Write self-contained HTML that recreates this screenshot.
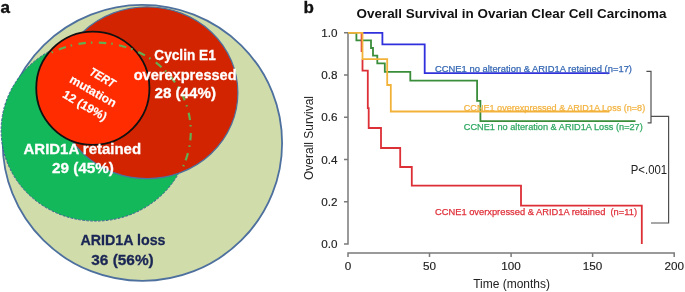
<!DOCTYPE html>
<html><head><meta charset="utf-8">
<style>
html,body{margin:0;padding:0;background:#fff;}
body{width:685px;height:292px;overflow:hidden;}
svg{display:block;filter:blur(0.3px);font-family:"Liberation Sans",sans-serif;}
</style></head>
<body>
<svg width="685" height="292" viewBox="0 0 685 292">
<rect width="685" height="292" fill="#fff"/>
<!-- panel a -->
<text x="0.6" y="13.2" font-size="17" font-weight="bold" fill="#111" stroke="#111" stroke-width="0.4">a</text>
<ellipse cx="142.4" cy="142.9" rx="139.7" ry="138" fill="#d1dcab" stroke="#4d709e" stroke-width="1.8"/>
<ellipse cx="95.5" cy="130.4" rx="94.4" ry="90.7" fill="#12b85a" stroke="#3d5f96" stroke-width="1" stroke-dasharray="2.5 1.5"/>
<ellipse cx="147.1" cy="92.7" rx="90.8" ry="85.9" fill="#d22400" stroke="#4d709e" stroke-width="1.2"/>
<circle cx="92.85" cy="88.25" r="56.6" fill="#ff2c00" stroke="#111" stroke-width="1.8"/>
<path d="M51.59 52.61A95.12 88.98 0 0 1 180.99 170.79" fill="none" stroke="#64ad50" stroke-width="2.2" stroke-dasharray="7.5 5 1.5 6.4" stroke-dashoffset="12.5"/>

<g fill="#fff" stroke="#fff" stroke-width="0.3" font-weight="bold" text-anchor="middle">
<text x="185.05" y="59.6" font-size="15" textLength="61.5" lengthAdjust="spacingAndGlyphs">Cyclin E1</text>
<text x="185.15" y="80" font-size="15" textLength="103" lengthAdjust="spacingAndGlyphs">overexpressed</text>
<text x="185.25" y="97.5" font-size="15" textLength="61.5" lengthAdjust="spacingAndGlyphs">28 (44%)</text>
<text x="82.3" y="154" font-size="15" textLength="117.5" lengthAdjust="spacingAndGlyphs">ARID1A retained</text>
<text x="82.95" y="173" font-size="15" textLength="62" lengthAdjust="spacingAndGlyphs">29 (45%)</text>
</g>
<g fill="#1a2654" stroke="#1a2654" stroke-width="0.3" font-weight="bold" text-anchor="middle">
<text x="123" y="245" font-size="15" textLength="85" lengthAdjust="spacingAndGlyphs">ARID1A loss</text>
<text x="122.5" y="264.5" font-size="15" textLength="62.5" lengthAdjust="spacingAndGlyphs">36 (56%)</text>
</g>
<g fill="#fff" stroke="#fff" stroke-width="0.2" font-weight="bold" text-anchor="middle" font-size="12" transform="translate(93.3 90.8) rotate(30)">
<text x="1.2" y="-12" font-style="italic" textLength="27.5" lengthAdjust="spacingAndGlyphs">TERT</text>
<text x="0" y="4.5" textLength="51.5" lengthAdjust="spacingAndGlyphs">mutation</text>
<text x="0" y="21">12 (19%)</text>
</g>

<!-- panel b -->
<text x="303.5" y="13.4" font-size="17" font-weight="bold" fill="#111" stroke="#111" stroke-width="0.3">b</text>
<text x="356.5" y="17.7" font-size="13" font-weight="bold" fill="#111" textLength="310" lengthAdjust="spacingAndGlyphs">Overall Survival in Ovarian Clear Cell Carcinoma</text>

<g stroke="#7a7a7a" stroke-width="1.5" fill="none">
<path d="M344 32.7H348V244H344M344 75H348M344 117.2H348M344 159.5H348M344 201.7H348"/>
<path d="M348 257V253H674.2V257M429.5 253V257M511.1 253V257M592.6 253V257"/>
</g>
<g font-size="11.7" fill="#222" stroke="#222" stroke-width="0.15" text-anchor="end">
<text x="337.5" y="37">1.0</text>
<text x="337.5" y="79.2">0.8</text>
<text x="337.5" y="121.4">0.6</text>
<text x="337.5" y="163.7">0.4</text>
<text x="337.5" y="205.9">0.2</text>
<text x="337.5" y="248.2">0.0</text>
</g>
<g font-size="11.7" fill="#222" stroke="#222" stroke-width="0.15" text-anchor="middle">
<text x="348" y="270.4">0</text>
<text x="429.5" y="270.4">50</text>
<text x="511.1" y="270.4">100</text>
<text x="592.6" y="270.4">150</text>
<text x="674.2" y="270.4">200</text>
</g>
<text x="511.6" y="287.8" font-size="12" fill="#222" text-anchor="middle">Time (months)</text>
<text transform="translate(312.8 138) rotate(-90)" font-size="12" fill="#222" text-anchor="middle">Overall Survival</text>

<g fill="none" stroke-width="1.8">
<path stroke="#3030dc" d="M362 32.8H382.4V44.4H424.7V73.1H609.5"/>
<path stroke="#3a8d3a" d="M348 32.8H356.4V40.3H371V48H373V55.7H377.3V63.4H384.8V71.9H410.3V80.7H477.1V100.8H480.4V121.2H635.5"/>
<path stroke="#dc2f36" d="M361.6 32.8V52M362.5 59.2V70.6H367.8V108.2H368.7V128H381V148H400.2V167H411.8V185.6H521V205.6H641.8V244"/>
<path stroke="#f2b23a" d="M348 32.8H362.5V59.2H387.2V85H390.8V111.5H609.5"/>
</g>
<g stroke="#505050" stroke-width="1.2" fill="none">
<path d="M646.4 71.3H651V122.8H647.6"/>
<path d="M651 116.4H668.6V223H651"/>
</g>
<g font-size="9.6" stroke-width="0.25">
<text x="435" y="71.5" fill="#3668b4" stroke="#3668b4" textLength="197" lengthAdjust="spacingAndGlyphs">CCNE1 no alteration &amp; ARID1A retained (n=17)</text>
<text x="463.8" y="111" fill="#f3b340" stroke="#f3b340" textLength="181.4" lengthAdjust="spacingAndGlyphs">CCNE1 overexpressed &amp; ARID1A Loss (n=8)</text>
<text x="463.8" y="129.5" fill="#2fa862" stroke="#2fa862" textLength="179" lengthAdjust="spacingAndGlyphs">CCNE1 no alteration &amp; ARID1A Loss (n=27)</text>
<text x="435" y="214.5" font-size="9.8" fill="#e0303a" stroke="#e0303a" textLength="202" lengthAdjust="spacingAndGlyphs">CCNE1 overxpressed &amp; ARID1A retained&#160; (n=11)</text>
</g>
<text x="630.8" y="174.3" font-size="12.5" fill="#222" textLength="36.3" lengthAdjust="spacingAndGlyphs">P&lt;.001</text>
</svg>
</body></html>
